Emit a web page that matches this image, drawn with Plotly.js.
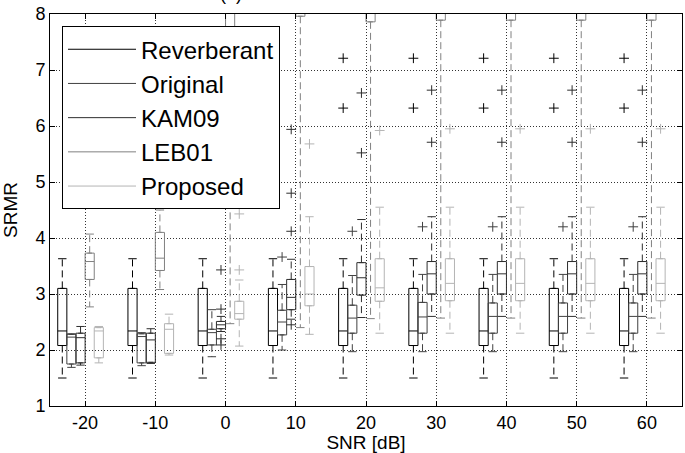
<!DOCTYPE html>
<html><head><meta charset="utf-8">
<script src="https://cdn.plot.ly/plotly-3.0.1.min.js"></script>
<style>html,body{margin:0;padding:0;background:#fff}#chart{width:685px;height:453px}</style>
</head><body><div id="chart"></div>
<script>
// SNR groups and tick labels
const snr = [-20, -10, 0, 10, 20, 30, 40, 50, 60];
const xTickLabels = ['-20', '-10', '0', '10', '20', '30', '40', '50', '60'];
const yTickVals = [1, 2, 3, 4, 5, 6, 7, 8];

// Reverberant
const revLo  = [1.50, 1.50, 1.50, 1.50, 1.50, 1.50, 1.50, 1.50, 1.50];
const revQ1  = [2.08, 2.08, 2.08, 2.08, 2.08, 2.08, 2.08, 2.08, 2.08];
const revMed = [2.34, 2.34, 2.34, 2.34, 2.34, 2.34, 2.34, 2.34, 2.34];
const revQ3  = [3.10, 3.10, 3.10, 3.10, 3.10, 3.10, 3.10, 3.10, 3.10];
const revHi  = [3.63, 3.63, 3.63, 3.63, 3.63, 3.63, 3.63, 3.63, 3.63];
const revOutSnr = [20, 20, 30, 30, 40, 40, 50, 50, 60, 60];
const revOutVal = [7.21, 6.32, 7.21, 6.32, 7.21, 6.32, 7.21, 6.32, 7.21, 6.32];

// Original
const orgLo  = [1.69, 1.72, 1.88, 2.00, 1.97, 1.97, 1.97, 1.97, 1.97];
const orgQ1  = [1.75, 1.77, 2.09, 2.27, 2.30, 2.30, 2.30, 2.30, 2.30];
const orgMed = [2.23, 2.24, 2.31, 2.50, 2.57, 2.59, 2.60, 2.60, 2.60];
const orgQ3  = [2.28, 2.29, 2.37, 2.71, 2.80, 2.85, 2.84, 2.84, 2.84];
const orgHi  = [2.29, 2.31, 2.72, 3.17, 3.33, 3.35, 3.35, 3.35, 3.35];
const orgOutSnr = [10, 20, 30, 40, 50, 60];
const orgOutVal = [3.66, 4.12, 4.20, 4.20, 4.20, 4.20];

// KAM09
const kamLo  = [1.73, 1.76, 2.33, 2.55, 2.58, 2.60, 2.60, 2.60, 2.60];
const kamQ1  = [1.77, 1.78, 2.38, 2.72, 2.98, 3.00, 3.00, 3.00, 3.00];
const kamMed = [2.22, 2.18, 2.45, 2.94, 3.29, 3.36, 3.36, 3.36, 3.36];
const kamQ3  = [2.30, 2.30, 2.51, 3.26, 3.56, 3.58, 3.58, 3.58, 3.58];
const kamHi  = [2.42, 2.38, 2.60, 3.62, 4.33, 4.38, 4.38, 4.38, 4.38];
const kamOutSnr = [0, 0, 0, 0, 10, 10, 10, 10, 20, 20, 30, 30, 40, 40, 50, 50, 60, 60];
const kamOutVal = [3.43, 2.73, 2.20, 2.09, 4.12, 4.80, 5.94, 2.45, 5.52, 6.59, 5.71, 6.64, 5.71, 6.64, 5.71, 6.64, 5.71, 6.64];

// LEB01
const lebLo  = [2.77, 3.08, 2.47, 2.40, 2.56, 2.57, 2.57, 2.57, 2.57];
const lebQ1  = [3.26, 3.42, 7.60, 7.96, 7.86, 7.89, 7.89, 7.89, 7.89];
const lebMed = [3.58, 3.64, 9.00, 9.00, 9.00, 9.00, 9.00, 9.00, 9.00];
const lebQ3  = [3.73, 4.10, 10.0, 10.0, 10.0, 10.0, 10.0, 10.0, 10.0];
const lebHi  = [4.07, 4.50, 11.0, 11.0, 11.0, 11.0, 11.0, 11.0, 11.0];
const lebOutSnr = [];
const lebOutVal = [];

// Proposed
const proLo  = [1.77, 1.91, 2.07, 2.28, 2.30, 2.30, 2.30, 2.30, 2.30];
const proQ1  = [1.86, 1.94, 2.55, 2.79, 2.87, 2.88, 2.88, 2.88, 2.88];
const proMed = [2.34, 2.37, 2.65, 3.00, 3.11, 3.19, 3.19, 3.19, 3.19];
const proQ3  = [2.40, 2.47, 2.87, 3.49, 3.63, 3.63, 3.63, 3.63, 3.63];
const proHi  = [2.42, 2.64, 3.25, 4.38, 4.55, 4.55, 4.55, 4.55, 4.55];
const proOutSnr = [0, 0, 10, 20, 30, 40, 50, 60];
const proOutVal = [3.43, 4.43, 5.68, 5.92, 5.95, 5.95, 5.95, 5.95];

const series = [
  {name: 'Reverberant', color: '#000000', lo: revLo, q1: revQ1, med: revMed, q3: revQ3, hi: revHi, outSnr: revOutSnr, outVal: revOutVal},
  {name: 'Original',    color: '#404040', lo: orgLo, q1: orgQ1, med: orgMed, q3: orgQ3, hi: orgHi, outSnr: orgOutSnr, outVal: orgOutVal},
  {name: 'KAM09',       color: '#2e2e2e', lo: kamLo, q1: kamQ1, med: kamMed, q3: kamQ3, hi: kamHi, outSnr: kamOutSnr, outVal: kamOutVal},
  {name: 'LEB01',       color: '#808080', lo: lebLo, q1: lebQ1, med: lebMed, q3: lebQ3, hi: lebHi, outSnr: lebOutSnr, outVal: lebOutVal},
  {name: 'Proposed',    color: '#b4b4b4', lo: proLo, q1: proQ1, med: proMed, q3: proQ3, hi: proHi, outSnr: proOutSnr, outVal: proOutVal}
];
const offsets = [-3.25, -1.95, -0.65, 0.65, 1.95];
const boxWidth = 1.3;

const traces = [];
series.forEach((s, i) => {
  const xs = snr.map(v => v + offsets[i]);
  // whiskers (dashed)
  const wx = [], wy = [];
  xs.forEach((x, k) => {
    wx.push(x, x, null, x, x, null);
    wy.push(s.q3[k], s.hi[k], null, s.q1[k], s.lo[k], null);
  });
  traces.push({type: 'scatter', mode: 'lines', x: wx, y: wy,
    line: {color: s.color, width: 1, dash: '7px,4px'}, showlegend: false, hoverinfo: 'skip'});
  // boxes
  traces.push({type: 'box', x: xs, q1: s.q1, median: s.med, q3: s.q3,
    lowerfence: s.q1, upperfence: s.q3, width: boxWidth, boxpoints: false,
    line: {color: s.color, width: 1}, fillcolor: 'rgba(0,0,0,0)', showlegend: false, hoverinfo: 'skip'});
  // whisker caps
  traces.push({type: 'scatter', mode: 'markers', x: xs.concat(xs), y: s.lo.concat(s.hi),
    marker: {symbol: 'line-ew', size: 6, color: s.color, line: {color: s.color, width: 1}},
    showlegend: false, hoverinfo: 'skip'});
  // outliers
  traces.push({type: 'scatter', mode: 'markers', x: s.outSnr.map(v => v + offsets[i]), y: s.outVal,
    marker: {symbol: 'cross-thin', size: 7, color: s.color, line: {color: s.color, width: 1}},
    showlegend: false, hoverinfo: 'skip'});
});
// legend entries
series.forEach(s => traces.push({type: 'scatter', mode: 'lines', x: [null], y: [null], name: s.name,
  line: {color: s.color, width: 1}}));

const axisCommon = {
  ticks: 'inside', ticklen: 5, tickcolor: '#000', tickwidth: 1,
  showline: true, linecolor: '#000', linewidth: 1, mirror: 'ticks',
  showgrid: true, gridcolor: '#333', gridwidth: 1, griddash: '1px,2px',
  zeroline: false, tickfont: {size: 18, color: '#000'}
};

const layout = {
  width: 685, height: 453,
  margin: {l: 50, r: 3, t: 14, b: 47},
  paper_bgcolor: '#fff', plot_bgcolor: '#fff',
  font: {family: '"Liberation Sans", Arial, sans-serif', color: '#000', size: 18},
  showlegend: true,
  xaxis: Object.assign({}, axisCommon, {
    range: [-25, 65], tickmode: 'array', tickvals: snr, ticktext: xTickLabels,
    title: {text: 'SNR [dB]', font: {size: 19}, standoff: 4}
  }),
  yaxis: Object.assign({}, axisCommon, {
    range: [1, 8], tickmode: 'array', tickvals: yTickVals,
    title: {text: 'SRMR', font: {size: 19}, standoff: 12}
  }),
  legend: {x: 0.019, y: 0.969, xanchor: 'left', yanchor: 'top', bgcolor: '#fff',
    bordercolor: '#000', borderwidth: 1, font: {size: 24, color: '#000'}, itemwidth: 68},
  annotations: [{text: '(a)', xref: 'paper', yref: 'paper', x: 0.286, y: 1.02,
    xanchor: 'center', yanchor: 'bottom', showarrow: false, font: {size: 18}}]
};

Plotly.newPlot('chart', traces, layout, {displayModeBar: false, staticPlot: true});
</script>
</body></html>
